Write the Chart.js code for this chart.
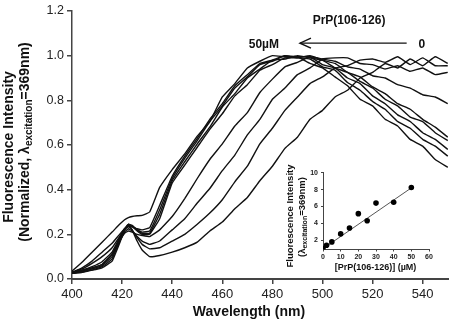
<!DOCTYPE html>
<html><head><meta charset="utf-8">
<script src="https://cdn.jsdelivr.net/npm/chart.js@4/dist/chart.umd.min.js"></script>
<style>
html,body{margin:0;padding:0;background:#fff;}
#wrap{position:relative;width:449px;height:324px;overflow:hidden;}
#main{position:absolute;left:0;top:0;width:449px;height:324px;}
#inset{position:absolute;left:280px;top:160px;width:160px;height:116px;}
</style></head><body>
<div id="wrap"><canvas id="main" width="449" height="324"></canvas><canvas id="inset" width="160" height="116"></canvas></div>
<script>
// ---- main chart data (normalized emission spectra) ----
const wavelengths = [400,404,408,412,416,419,421,422.5,424,426,428,431,435,440,445,450,455,460,465,470,475,480,485,490,495,500,505,510,515,520,525,530,535,540,545,550];
const spec0uM  = [0.03,0.035,0.04,0.05,0.08,0.16,0.22,0.245,0.22,0.17,0.13,0.10,0.105,0.12,0.14,0.165,0.215,0.255,0.315,0.365,0.44,0.505,0.585,0.635,0.715,0.755,0.815,0.845,0.9,0.925,0.965,0.945,0.985,0.955,0.995,0.965];
const spec5uM  = [0.025,0.03,0.04,0.055,0.09,0.17,0.22,0.235,0.22,0.185,0.155,0.135,0.14,0.17,0.2,0.245,0.295,0.355,0.435,0.505,0.605,0.675,0.755,0.815,0.875,0.905,0.945,0.955,0.98,0.985,0.97,0.995,0.96,0.99,0.955,0.955];
const spec10uM = [0.025,0.03,0.045,0.06,0.1,0.17,0.21,0.225,0.215,0.19,0.17,0.155,0.17,0.22,0.27,0.34,0.405,0.485,0.555,0.645,0.715,0.805,0.855,0.915,0.945,0.985,0.99,0.99,0.965,0.96,0.94,0.955,0.93,0.945,0.915,0.925];
const spec15uM = [0.03,0.04,0.05,0.065,0.11,0.17,0.205,0.215,0.21,0.2,0.195,0.19,0.22,0.28,0.36,0.45,0.535,0.605,0.685,0.745,0.835,0.895,0.95,0.97,0.995,0.985,0.975,0.95,0.94,0.91,0.9,0.87,0.855,0.825,0.815,0.785];
const spec20uM = [0.025,0.035,0.05,0.065,0.11,0.18,0.22,0.24,0.235,0.215,0.2,0.2,0.27,0.43,0.51,0.59,0.67,0.74,0.82,0.87,0.935,0.96,0.99,0.99,1.0,0.98,0.965,0.925,0.905,0.86,0.83,0.785,0.76,0.715,0.68,0.635];
const spec25uM = [0.03,0.04,0.055,0.077,0.12,0.185,0.225,0.245,0.24,0.22,0.205,0.205,0.29,0.44,0.525,0.605,0.68,0.77,0.83,0.9,0.94,0.98,0.985,1.0,0.99,0.98,0.945,0.925,0.885,0.855,0.805,0.775,0.725,0.705,0.655,0.62];
const spec30uM = [0.03,0.045,0.07,0.10,0.14,0.19,0.225,0.24,0.235,0.22,0.21,0.215,0.31,0.45,0.54,0.62,0.705,0.775,0.855,0.905,0.96,0.975,1.0,0.995,0.995,0.96,0.945,0.9,0.875,0.82,0.785,0.735,0.705,0.655,0.625,0.58];
const spec40uM = [0.03,0.05,0.08,0.12,0.16,0.2,0.225,0.235,0.235,0.225,0.22,0.23,0.33,0.46,0.55,0.63,0.715,0.785,0.865,0.915,0.965,0.98,1.0,0.99,0.985,0.95,0.935,0.88,0.845,0.795,0.76,0.705,0.675,0.625,0.595,0.55];
const spec50uM = [0.035,0.075,0.12,0.165,0.21,0.245,0.265,0.275,0.28,0.283,0.285,0.3,0.41,0.49,0.56,0.64,0.705,0.815,0.875,0.945,0.975,1.0,0.995,0.995,0.965,0.945,0.905,0.865,0.805,0.775,0.715,0.685,0.625,0.595,0.535,0.5];
const xTickValues = [400,420,440,460,480,500,520,540];
const yTickValues = [0,0.2,0.4,0.6,0.8,1.0,1.2];

// ---- inset data ----
const insetConc = [0,2,5,10,15,20,25,30,40,50];
const insetIntensity = [1.0,1.4,1.8,2.75,3.45,5.15,4.3,6.4,6.5,8.25];
const fitConc = [0,50];
const fitIntensity = [1.0,8.2];
const insetXTicks = [0,10,20,30,40,50,60];
const insetYTicks = [2,4,6,8,10];

const FONT = "'Liberation Sans', Arial, Helvetica, sans-serif";
Chart.defaults.font.family = FONT;

const spectra = [spec0uM,spec5uM,spec10uM,spec15uM,spec20uM,spec25uM,spec30uM,spec40uM,spec50uM];

function toXY(xs, ys){ return xs.map((x,i)=>({x:x,y:ys[i]})); }

const mainText = {
  id:'mainText',
  afterDraw(chart){
    const ctx = chart.ctx, xs = chart.scales.x, ys = chart.scales.y;
    ctx.save();
    ctx.fillStyle = '#111';
    ctx.textAlign = 'center';
    ctx.textBaseline = 'middle';
    ctx.font = 'bold 14px ' + FONT;
    ctx.fillText('Wavelength (nm)', 249, 312);
    ctx.save();
    ctx.translate(9.5, 147);
    ctx.rotate(-Math.PI/2);
    ctx.fillText('Fluorescence Intensity', 0, 0);
    ctx.restore();
    ctx.save();
    ctx.translate(25, 142);
    ctx.rotate(-Math.PI/2);
    ctx.textAlign = 'left';
    const big = 'bold 14px ' + FONT, small = 'bold 10px ' + FONT;
    const s1 = '(Normalized, \u03bb', s2 = 'excitation', s3 = '=369nm)';
    ctx.font = big; const w1 = ctx.measureText(s1).width, w3 = ctx.measureText(s3).width;
    ctx.font = small; const w2 = ctx.measureText(s2).width;
    let x0 = -(w1+w2+w3)/2;
    ctx.font = big; ctx.fillText(s1, x0, 0);
    ctx.font = small; ctx.fillText(s2, x0+w1, 4);
    ctx.font = big; ctx.fillText(s3, x0+w1+w2, 0);
    ctx.restore();
    ctx.font = 'bold 12px ' + FONT;
    ctx.fillText('PrP(106-126)', xs.getPixelForValue(510.6), ys.getPixelForValue(1.155));
    ctx.fillText('50\u00b5M', xs.getPixelForValue(476.6), ys.getPixelForValue(1.05));
    ctx.fillText('0', xs.getPixelForValue(539.7), ys.getPixelForValue(1.05));
    const ay = ys.getPixelForValue(1.056);
    const ax0 = xs.getPixelForValue(491), ax1 = xs.getPixelForValue(533.6);
    ctx.strokeStyle = '#111'; ctx.lineWidth = 1.4;
    ctx.beginPath(); ctx.moveTo(ax1, ay); ctx.lineTo(ax0, ay); ctx.stroke();
    ctx.beginPath(); ctx.moveTo(ax0+11, ay-5); ctx.lineTo(ax0, ay); ctx.lineTo(ax0+11, ay+5); ctx.stroke();
    ctx.restore();
  }
};

new Chart(document.getElementById('main'), {
  type:'line',
  data:{ datasets: spectra.map(s=>({data:toXY(wavelengths,s), borderColor:'#111', borderWidth:1.4, pointRadius:0, tension:0.1, fill:false})) },
  options:{
    responsive:false, animation:false, devicePixelRatio:1,
    layout:{padding:{top:11,right:0,left:0,bottom:0}},
    plugins:{legend:{display:false}, tooltip:{enabled:false}},
    scales:{
      x:{type:'linear', min:400, max:550.5,
        afterBuildTicks:s=>{s.ticks = xTickValues.map(v=>({value:v}));},
        afterFit:s=>{s.height = 45;},
        grid:{drawOnChartArea:false, drawTicks:true, tickLength:5, color:'#444', lineWidth:1.5},
        border:{display:true, color:'#444', width:2},
        ticks:{padding:3, color:'#222', font:{size:13}, maxRotation:0, autoSkip:false, callback:v=>String(v)}},
      y:{min:0, max:1.2,
        afterBuildTicks:s=>{s.ticks = yTickValues.map(v=>({value:v}));},
        afterFit:s=>{s.width = 72;},
        grid:{drawOnChartArea:false, drawTicks:true, tickLength:5, color:'#444', lineWidth:1.5},
        border:{display:true, color:'#444', width:1.5},
        ticks:{padding:3, color:'#222', font:{size:12.5}, autoSkip:false, callback:v=>Number(v).toFixed(1)}}
    }
  },
  plugins:[mainText]
});

const insetText = {
  id:'insetText',
  afterDraw(chart){
    const ctx = chart.ctx;
    ctx.save();
    ctx.fillStyle = '#111';
    ctx.textAlign = 'center';
    ctx.textBaseline = 'middle';
    ctx.font = 'bold 9px ' + FONT;
    ctx.fillText('[PrP(106-126)] (\u00b5M)', 95.5, 107.5);
    ctx.save();
    ctx.translate(10, 56);
    ctx.rotate(-Math.PI/2);
    ctx.font = 'bold 9.5px ' + FONT;
    ctx.fillText('Fluorescence Intensity', 0, 0);
    ctx.restore();
    ctx.save();
    ctx.translate(22, 57);
    ctx.rotate(-Math.PI/2);
    ctx.textAlign = 'left';
    const big = 'bold 9.5px ' + FONT, small = 'bold 7px ' + FONT;
    const s1 = '(\u03bb', s2 = 'excitation', s3 = '=369nm)';
    ctx.font = big; const w1 = ctx.measureText(s1).width, w3 = ctx.measureText(s3).width;
    ctx.font = small; const w2 = ctx.measureText(s2).width;
    let x0 = -(w1+w2+w3)/2;
    ctx.font = big; ctx.fillText(s1, x0, 0);
    ctx.font = small; ctx.fillText(s2, x0+w1, 3);
    ctx.font = big; ctx.fillText(s3, x0+w1+w2, 0);
    ctx.restore();
    ctx.restore();
  }
};

new Chart(document.getElementById('inset'), {
  type:'scatter',
  data:{ datasets:[
    {data:toXY(insetConc, insetIntensity), pointRadius:2.8, pointBackgroundColor:'#000', pointBorderWidth:0, showLine:false},
    {data:toXY(fitConc, fitIntensity), showLine:true, pointRadius:0, borderColor:'#555', borderWidth:1}
  ]},
  options:{
    responsive:false, animation:false, devicePixelRatio:1,
    layout:{padding:{top:12.7,right:11,left:0,bottom:0}},
    plugins:{legend:{display:false}, tooltip:{enabled:false}},
    scales:{
      x:{type:'linear', min:0, max:60,
        afterBuildTicks:s=>{s.ticks = insetXTicks.map(v=>({value:v}));},
        afterFit:s=>{s.height = 26.5;},
        grid:{drawOnChartArea:false, tickLength:2, color:'#444'},
        border:{display:true, color:'#444', width:1},
        ticks:{padding:1, color:'#222', font:{size:7, weight:'bold'}, maxRotation:0, autoSkip:false}},
      y:{min:0.9, max:10,
        afterBuildTicks:s=>{s.ticks = insetYTicks.map(v=>({value:v}));},
        afterFit:s=>{s.width = 43;},
        grid:{drawOnChartArea:false, tickLength:2, color:'#444'},
        border:{display:true, color:'#444', width:1},
        ticks:{padding:3, color:'#222', font:{size:7, weight:'bold'}, autoSkip:false}}
    }
  },
  plugins:[insetText]
});
</script>
</body></html>
